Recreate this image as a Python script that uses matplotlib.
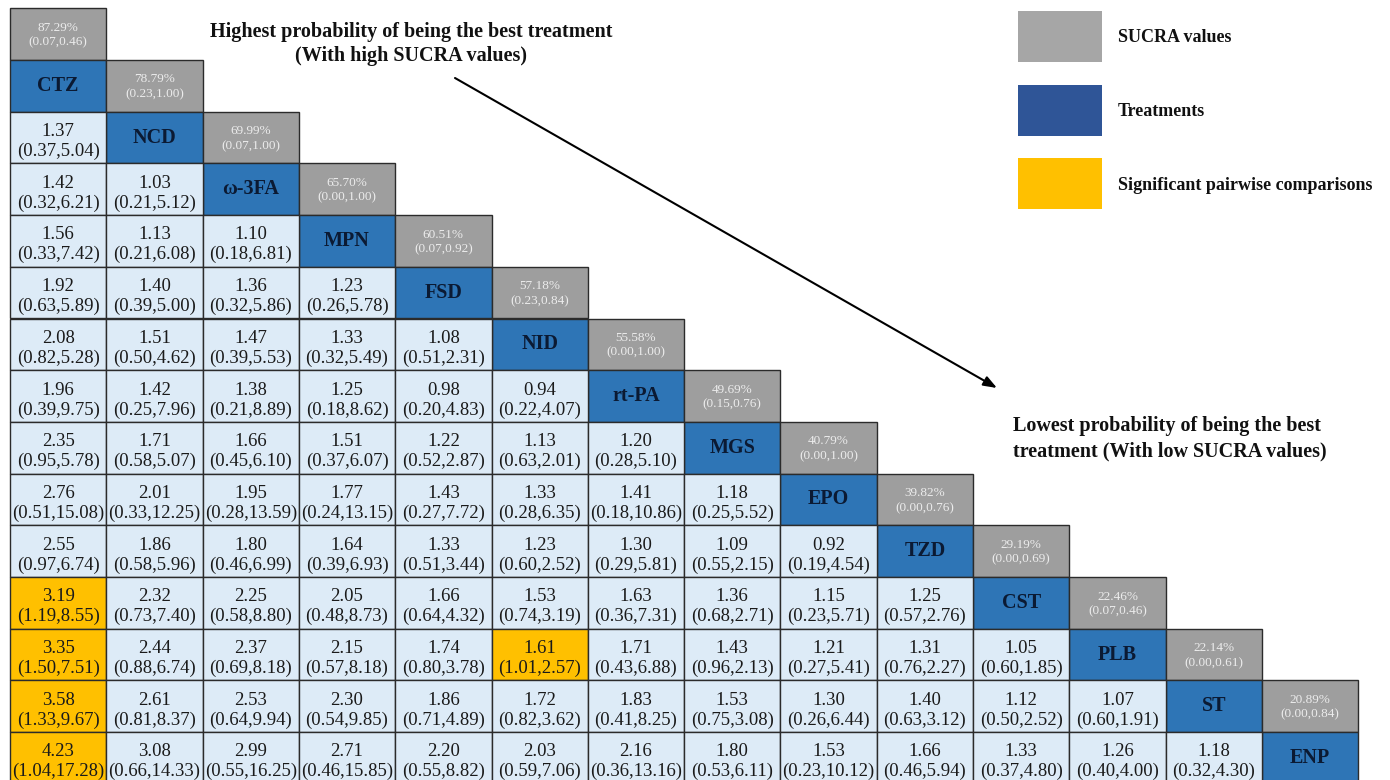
import numpy as np
import matplotlib.pyplot as plt
from matplotlib.patches import Rectangle

plt.rcParams['font.family'] = ['Liberation Serif', 'DejaVu Serif']

treatments = ["CTZ", "NCD", "ω-3FA", "MPN", "FSD", "NID", "rt-PA", "MGS",
              "EPO", "TZD", "CST", "PLB", "ST", "ENP"]
sucra = [87.29, 78.79, 69.99, 65.70, 60.51, 57.18, 55.58, 49.69,
         40.79, 39.82, 29.19, 22.46, 22.14, 20.89]
sucra_lo = [0.07, 0.23, 0.07, 0.00, 0.07, 0.23, 0.00, 0.15,
            0.00, 0.00, 0.00, 0.07, 0.00, 0.00]
sucra_hi = [0.46, 1.00, 1.00, 1.00, 0.92, 0.84, 1.00, 0.76,
            1.00, 0.76, 0.69, 0.46, 0.61, 0.84]

# lower triangle: row i (treatment i) vs column j (treatment j), j < i
est = [
    [],
    [1.37],
    [1.42, 1.03],
    [1.56, 1.13, 1.10],
    [1.92, 1.40, 1.36, 1.23],
    [2.08, 1.51, 1.47, 1.33, 1.08],
    [1.96, 1.42, 1.38, 1.25, 0.98, 0.94],
    [2.35, 1.71, 1.66, 1.51, 1.22, 1.13, 1.20],
    [2.76, 2.01, 1.95, 1.77, 1.43, 1.33, 1.41, 1.18],
    [2.55, 1.86, 1.80, 1.64, 1.33, 1.23, 1.30, 1.09, 0.92],
    [3.19, 2.32, 2.25, 2.05, 1.66, 1.53, 1.63, 1.36, 1.15, 1.25],
    [3.35, 2.44, 2.37, 2.15, 1.74, 1.61, 1.71, 1.43, 1.21, 1.31, 1.05],
    [3.58, 2.61, 2.53, 2.30, 1.86, 1.72, 1.83, 1.53, 1.30, 1.40, 1.12, 1.07],
    [4.23, 3.08, 2.99, 2.71, 2.20, 2.03, 2.16, 1.80, 1.53, 1.66, 1.33, 1.26, 1.18],
]
lo = [
    [],
    [0.37],
    [0.32, 0.21],
    [0.33, 0.21, 0.18],
    [0.63, 0.39, 0.32, 0.26],
    [0.82, 0.50, 0.39, 0.32, 0.51],
    [0.39, 0.25, 0.21, 0.18, 0.20, 0.22],
    [0.95, 0.58, 0.45, 0.37, 0.52, 0.63, 0.28],
    [0.51, 0.33, 0.28, 0.24, 0.27, 0.28, 0.18, 0.25],
    [0.97, 0.58, 0.46, 0.39, 0.51, 0.60, 0.29, 0.55, 0.19],
    [1.19, 0.73, 0.58, 0.48, 0.64, 0.74, 0.36, 0.68, 0.23, 0.57],
    [1.50, 0.88, 0.69, 0.57, 0.80, 1.01, 0.43, 0.96, 0.27, 0.76, 0.60],
    [1.33, 0.81, 0.64, 0.54, 0.71, 0.82, 0.41, 0.75, 0.26, 0.63, 0.50, 0.60],
    [1.04, 0.66, 0.55, 0.46, 0.55, 0.59, 0.36, 0.53, 0.23, 0.46, 0.37, 0.40, 0.32],
]
hi = [
    [],
    [5.04],
    [6.21, 5.12],
    [7.42, 6.08, 6.81],
    [5.89, 5.00, 5.86, 5.78],
    [5.28, 4.62, 5.53, 5.49, 2.31],
    [9.75, 7.96, 8.89, 8.62, 4.83, 4.07],
    [5.78, 5.07, 6.10, 6.07, 2.87, 2.01, 5.10],
    [15.08, 12.25, 13.59, 13.15, 7.72, 6.35, 10.86, 5.52],
    [6.74, 5.96, 6.99, 6.93, 3.44, 2.52, 5.81, 2.15, 4.54],
    [8.55, 7.40, 8.80, 8.73, 4.32, 3.19, 7.31, 2.71, 5.71, 2.76],
    [7.51, 6.74, 8.18, 8.18, 3.78, 2.57, 6.88, 2.13, 5.41, 2.27, 1.85],
    [9.67, 8.37, 9.94, 9.85, 4.89, 3.62, 8.25, 3.08, 6.44, 3.12, 2.52, 1.91],
    [17.28, 14.33, 16.25, 15.85, 8.82, 7.06, 13.16, 6.11, 10.12, 5.94, 4.80, 4.00, 4.30],
]

c_blue = "#2E75B6"
c_light = "#DDEBF7"
c_grey = "#9E9E9E"
c_orange = "#FFC000"
c_edge = "#2b2b2b"

W, H = 1390, 780
fig = plt.figure(figsize=(13.9, 7.8), dpi=100)
ax = fig.add_axes([0, 0, 1, 1])
ax.set_xlim(0, W)
ax.set_ylim(H, 0)
ax.axis("off")

x0, y0, cw, ch = 10, 60, 96.3, 51.7

def cell(col, row, color, lw=1.0):
    ax.add_patch(Rectangle((x0 + col * cw, y0 + row * ch), cw, ch,
                           facecolor=color, edgecolor=c_edge, lw=lw))
    return x0 + col * cw + cw / 2, y0 + row * ch + ch / 2

n = len(treatments)
for i in range(n):
    # SUCRA cell above the treatment
    cx, cy = cell(i, i - 1, c_grey)
    ax.text(cx, cy + 1, f"{sucra[i]:.2f}%\n({sucra_lo[i]:.2f},{sucra_hi[i]:.2f})",
            ha="center", va="center", fontsize=9.5, color="#ececec", linespacing=1.3)
    # treatment cell
    cx, cy = cell(i, i, c_blue)
    ax.text(cx, cy, treatments[i], ha="center", va="center", fontsize=14.5,
            fontweight="bold", color="#0b1a33")
    for j in range(i):
        sig = lo[i][j] > 1 or hi[i][j] < 1
        cx, cy = cell(j, i, c_orange if sig else c_light)
        ax.text(cx, cy + 4, f"{est[i][j]:.2f}\n({lo[i][j]:.2f},{hi[i][j]:.2f})",
                ha="center", va="center", fontsize=13.5, color="#1a1a1a",
                linespacing=1.2)

# annotations
ax.text(411, 44, "Highest probability of being the best treatment\n(With high SUCRA values)",
        ha="center", va="center", fontsize=14.5, fontweight="bold", color="#111111",
        linespacing=1.2)
ax.text(1013, 439, "Lowest probability of being the best\ntreatment (With low SUCRA values)",
        ha="left", va="center", fontsize=14.5, fontweight="bold", color="#111111",
        linespacing=1.35)
ax.annotate("", xy=(997, 388), xytext=(455, 78),
            arrowprops=dict(arrowstyle="-|>,head_length=0.8,head_width=0.3",
                            color="black", lw=1.5, shrinkA=0, shrinkB=0))

# legend
legend_items = [("SUCRA values", "#A6A6A6"), ("Treatments", "#2F5597"),
                ("Significant pairwise comparisons", c_orange)]
for k, (lab, col) in enumerate(legend_items):
    ly = 11 + k * 73.5
    ax.add_patch(Rectangle((1018, ly), 84, 51, facecolor=col, edgecolor="none"))
    ax.text(1118, ly + 27, lab, ha="left", va="center", fontsize=13,
            fontweight="bold", color="#111111")

fig.savefig("out.png", dpi=100)
